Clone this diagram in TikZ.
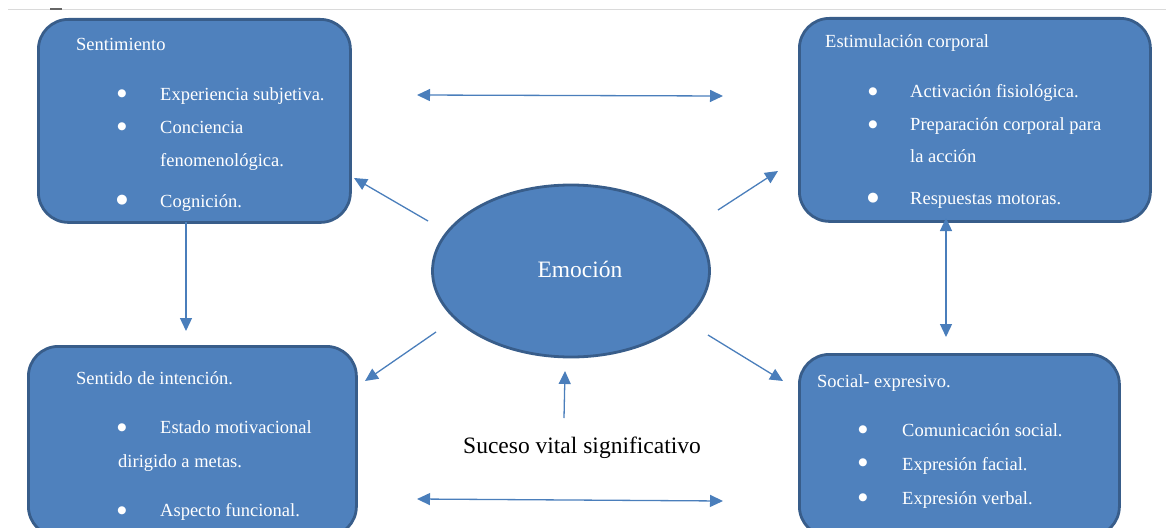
\documentclass[tikz,border=0pt]{standalone}
\usepackage{fontspec}
\setmainfont{Liberation Serif}
\newfontfamily\bulfont{DejaVu Sans}
\usetikzlibrary{shapes.geometric,arrows.meta}
\definecolor{boxfill}{HTML}{4F81BD}
\definecolor{boxline}{HTML}{385D8A}
\definecolor{arrowc}{HTML}{4A7EBB}
\definecolor{rulec}{HTML}{DADADA}
\begin{document}
\begin{tikzpicture}[x=1pt,y=-1pt,
  box/.style={draw=boxline, line width=2.8pt, fill=boxfill, rounded corners=30pt, anchor=north west, inner sep=0pt},
  ell/.style={ellipse, draw=boxline, line width=2.8pt, fill=boxfill, inner sep=0pt},
  txt/.style={text=white, font=\fontsize{18.5}{22}\selectfont, anchor=base west, inner sep=0pt},
  bul/.style={text=white, font=\bulfont\fontsize{10.5}{12}\selectfont, anchor=center, inner sep=0pt},
  bigbul/.style={bul, font=\bulfont\fontsize{13}{14}\selectfont},
  tip/.tip={Triangle[length=13pt,width=12pt]},
  conn/.style={draw=arrowc, line width=1.3pt, -tip},
  conntwo/.style={draw=arrowc, line width=1.3pt, tip-tip}
]
\useasboundingbox (0,0) rectangle (1166,527);
\clip (0,0) rectangle (1166,527);
% top rule of the page
\coordinate (r1) at (8,10); \coordinate (r2) at (1166,10);
\draw[rulec, line width=1pt] (r1) -- (r2);
\coordinate (m1) at (50,9); \coordinate (m2) at (62,9);
\draw[black!60, line width=1.2pt] (m1) -- (m2);

% boxes
\node[box, minimum width=312pt, minimum height=203pt] (sent) at (37,18) {};
\node[box, minimum width=351pt, minimum height=203pt] (est) at (798,17) {};
\node[box, minimum width=328pt, minimum height=190pt] (sint) at (27,345) {};
\node[box, minimum width=320pt, minimum height=182pt] (soc) at (798,353) {};
\node[ell, minimum width=277pt, minimum height=172pt] (emo) at (571,271) {};

% Sentimiento
\node[txt] (t1) at (76,51) {Sentimiento};
\node[bul] (b11) at (122,94) {●};
\node[txt] (t11) at (160,100) {Experiencia subjetiva.};
\node[bul] (b12) at (122,127) {●};
\node[txt] (t12) at (160,133) {Conciencia};
\node[txt] (t13) at (160,166) {fenomenológica.};
\node[bigbul] (b13) at (122,200) {●};
\node[txt] (t14) at (160,207) {Cognición.};

% Estimulacion corporal
\node[txt] (t2) at (825,48) {Estimulación corporal};
\node[bul] (b21) at (873,92) {●};
\node[txt] (t21) at (910,97) {Activación fisiológica.};
\node[bul] (b22) at (873,125) {●};
\node[txt] (t22) at (910,130) {Preparación corporal para};
\node[txt] (t23) at (910,162) {la acción};
\node[bigbul] (b23) at (873,198) {●};
\node[txt] (t24) at (910,204) {Respuestas motoras.};

% Sentido de intencion
\node[txt] (t3) at (76,384) {Sentido de intención.};
\node[bul] (b31) at (122,428) {●};
\node[txt] (t31) at (160,433) {Estado motivacional};
\node[txt] (t32) at (118,467) {dirigido a metas.};
\node[bul] (b32) at (122,511) {●};
\node[txt] (t33) at (160,516) {Aspecto funcional.};

% Social expresivo
\node[txt] (t4) at (817,387) {Social- expresivo.};
\node[bul] (b41) at (863,430) {●};
\node[txt] (t41) at (902,436) {Comunicación social.};
\node[bul] (b42) at (863,463) {●};
\node[txt] (t42) at (902,470) {Expresión facial.};
\node[bul] (b43) at (863,498) {●};
\node[txt] (t43) at (902,504) {Expresión verbal.};

% centre texts
\node[txt, anchor=base, font=\fontsize{23.5}{28}\selectfont] (emot) at (580,277) {Emoción};
\node[anchor=base, inner sep=0pt, font=\fontsize{23.5}{28}\selectfont] (suc) at (582,453) {Suceso vital significativo};

% connectors
\coordinate (h1a) at (417,95);  \coordinate (h1b) at (723,96);
\draw[conntwo] (h1a) -- (h1b);
\coordinate (h2a) at (417,499); \coordinate (h2b) at (723,501);
\draw[conntwo] (h2a) -- (h2b);
\coordinate (d1a) at (428,221); \coordinate (d1b) at (354,178);
\draw[conn] (d1a) -- (d1b);
\coordinate (d2a) at (718,210); \coordinate (d2b) at (778,171);
\draw[conn] (d2a) -- (d2b);
\coordinate (d3a) at (436,332); \coordinate (d3b) at (365,381);
\draw[conn] (d3a) -- (d3b);
\coordinate (d4a) at (708,335); \coordinate (d4b) at (783,381);
\draw[conn] (d4a) -- (d4b);
\coordinate (s1a) at (564,418); \coordinate (s1b) at (565,371);
\draw[conn] (s1a) -- (s1b);
\coordinate (v1a) at (186,222); \coordinate (v1b) at (186,331);
\draw[conn] (v1a) -- (v1b);
\coordinate (v2a) at (946,218); \coordinate (v2b) at (946,337);
\draw[conntwo] (v2a) -- (v2b);
\end{tikzpicture}
\end{document}
